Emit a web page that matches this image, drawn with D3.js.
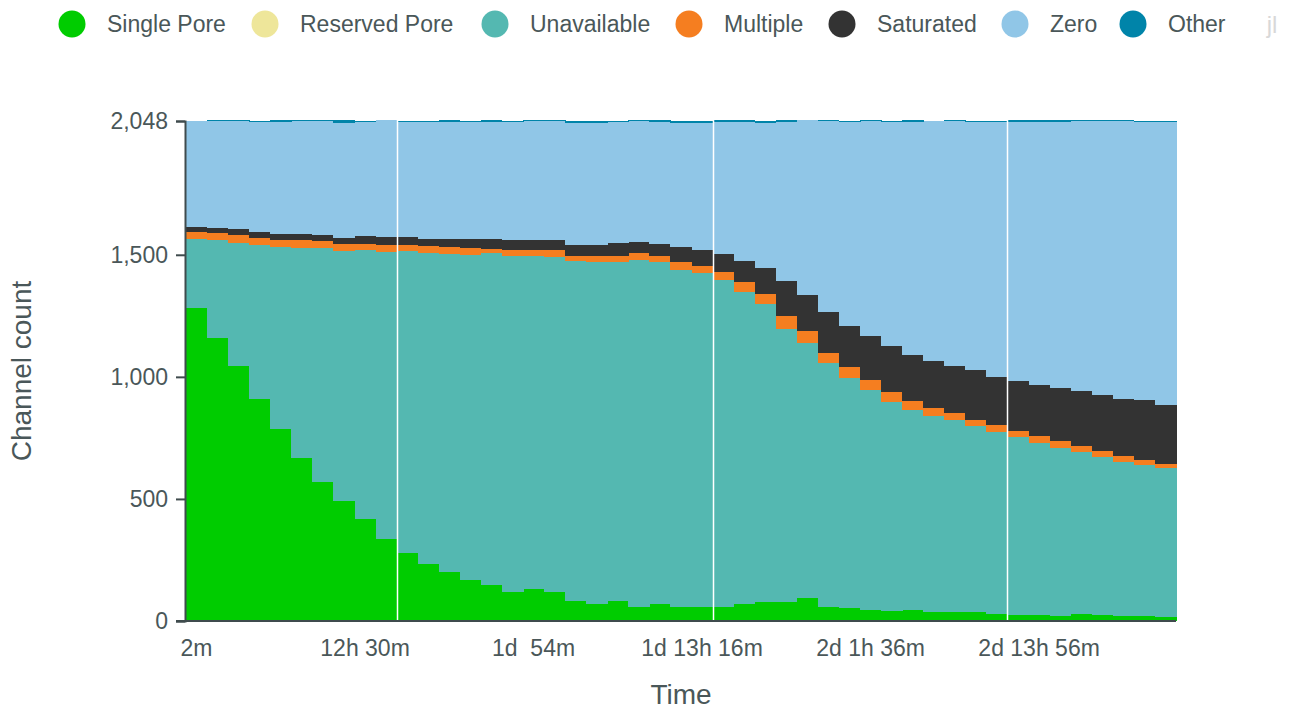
<!DOCTYPE html>
<html>
<head>
<meta charset="utf-8">
<script src="https://cdn.jsdelivr.net/npm/d3@7"></script>
<style>
  body { margin: 0; background: #fff; }
  svg { font-family: "Liberation Sans", Arial, Helvetica, sans-serif; }
</style>
</head>
<body>
<div id="chart"></div>
<script>
// channel states per time bin (47 bins)
var single      = [1282,1158,1044,909,786,668,569,490,418,336,278,232,202,168,147,119,131,117,82,71,81,57,70,56,57,57,70,78,79,94,57,52,45,41,45,37,37,37,29,25,25,20,29,25,20,20,16];
var reserved    = [0,0,0,0,0,0,0,0,0,0,0,0,0,0,0,0,0,0,0,0,0,0,0,0,0,0,0,0,0,0,0,0,0,0,0,0,0,0,0,0,0,0,0,0,0,0,0];
var unavailable = [283,403,504,631,746,860,959,1025,1102,1175,1236,1274,1301,1330,1359,1376,1364,1373,1391,1399,1389,1422,1400,1382,1368,1340,1278,1220,1117,1045,1000,945,902,857,820,804,788,763,746,727,703,689,663,645,631,618,611];
var multiple    = [28,28,33,29,29,33,28,29,24,29,26,30,29,30,18,25,25,30,22,25,25,28,25,32,29,33,41,41,53,49,41,43,40,40,36,31,27,23,28,26,30,28,25,26,25,21,17];
var saturated   = [21,21,25,24,24,24,25,25,33,33,33,29,33,37,41,41,41,41,45,45,53,45,49,62,66,73,86,107,144,147,168,168,180,188,189,193,192,205,196,205,209,217,225,230,233,246,241];
var zero        = [434,437,441,452,459,463,467,471,467,479,471,479,480,479,480,483,487,487,500,500,496,496,501,508,520,542,567,594,652,717,782,836,881,918,955,983,1004,1016,1045,1062,1078,1091,1106,1122,1139,1139,1159];
var other       = [0,5,5,3,8,4,4,12,4,0,4,4,7,4,7,4,4,4,8,8,4,4,7,8,8,7,10,8,7,0,4,4,4,4,7,0,4,4,4,7,7,7,4,4,4,4,4];

var seriesNames  = ["Single Pore", "Reserved Pore", "Unavailable", "Multiple", "Saturated", "Zero", "Other"];
var seriesColors = ["#00cc00", "#eee69a", "#54b8b1", "#f57e20", "#333333", "#90c6e7", "#0084a9"];
var seriesKeys   = ["single", "reserved", "unavailable", "multiple", "saturated", "zero", "other"];

var tickBins   = [0, 8, 16, 24, 32, 40];
var tickLabels = ["2m", "12h 30m", "1d  54m", "1d 13h 16m", "2d 1h 36m", "2d 13h 56m"];
var yTicks     = [0, 500, 1000, 1500, 2048];
var breakBins  = [10, 25, 39];   // white separators before these bins

var width = 1300, height = 712;
var textColor = "#4a5759";

var rows = single.map(function(d, i) {
  return {bin: i, single: d, reserved: reserved[i], unavailable: unavailable[i],
          multiple: multiple[i], saturated: saturated[i], zero: zero[i], other: other[i]};
});

var svg = d3.select("#chart").append("svg").attr("width", width).attr("height", height);

var x = d3.scaleBand().domain(rows.map(d => d.bin)).range([186, 1176]).padding(0);
var y = d3.scaleLinear().domain([0, 2048]).range([621, 121]);

var stacked = d3.stack().keys(seriesKeys)(rows);

svg.append("g").selectAll("g")
  .data(stacked).join("g")
    .attr("fill", (d, i) => seriesColors[i])
    .attr("shape-rendering", "crispEdges")
  .selectAll("rect")
  .data(d => d).join("rect")
    .attr("x", d => x(d.data.bin))
    .attr("width", x.bandwidth() + 0.5)
    .attr("y", d => y(d[1]))
    .attr("height", d => Math.max(0, y(d[0]) - y(d[1])));

// white separators
svg.append("g").selectAll("line")
  .data(breakBins).join("line")
    .attr("x1", d => Math.round(x(d)) + 0.5)
    .attr("x2", d => Math.round(x(d)) + 0.5)
    .attr("y1", 118).attr("y2", 621)
    .attr("stroke", "#fff").attr("stroke-width", 1.5);

// y axis
var yAxis = svg.append("g").attr("transform", "translate(185,0)")
  .call(d3.axisLeft(y).tickValues(yTicks).tickFormat(d3.format(",")).tickSize(9).tickPadding(8));
yAxis.select(".domain").attr("stroke", "#3f4b4d").attr("stroke-width", 2);
yAxis.selectAll(".tick line").attr("stroke", "#3f4b4d").attr("stroke-width", 2);
yAxis.selectAll("text").attr("fill", textColor).style("font-size", "23px");

// x axis
var xAxis = svg.append("g").attr("transform", "translate(0,621)")
  .call(d3.axisBottom(x).tickValues(tickBins)
    .tickFormat(d => tickLabels[tickBins.indexOf(d)]).tickSize(0).tickPadding(19));
xAxis.select(".domain").attr("stroke", "#3f4b4d").attr("stroke-width", 2)
  .attr("d", "M176,0H1176");
xAxis.selectAll("text").attr("fill", textColor).style("font-size", "23px").style("white-space", "pre");

// axis titles
svg.append("text").attr("x", 681).attr("y", 704).attr("text-anchor", "middle")
  .attr("fill", textColor).style("font-size", "28px").text("Time");
svg.append("text").attr("transform", "translate(31,371) rotate(-90)").attr("text-anchor", "middle")
  .attr("fill", textColor).style("font-size", "28px").text("Channel count");

// legend
var legendX = [72, 265, 495, 689, 842, 1015, 1133];
var legend = svg.append("g").selectAll("g")
  .data(seriesNames).join("g")
    .attr("transform", (d, i) => "translate(" + legendX[i] + ",24)");
legend.append("circle").attr("r", 13.5).attr("fill", (d, i) => seriesColors[i]);
legend.append("text").attr("x", 35).attr("dy", "0.35em")
  .attr("fill", textColor).style("font-size", "23px").text(d => d);

svg.append("text").attr("x", 1272).attr("y", 33).attr("text-anchor", "middle")
  .attr("fill", "#d8d8d8").style("font-size", "24px").text("jl");
</script>
</body>
</html>
